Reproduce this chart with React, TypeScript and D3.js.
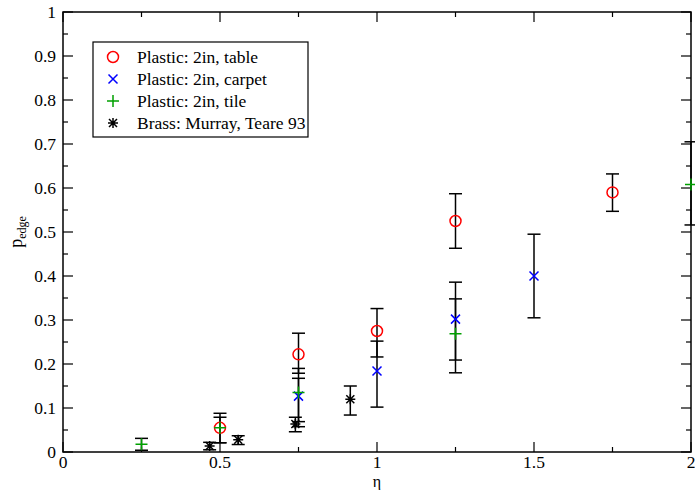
import { useEffect, useRef } from "react";
import * as d3 from "d3";

// Plastic: 2in, table (circles)
const tableX = [0.5, 0.75, 1, 1.25, 1.75];
const tableY = [0.055, 0.222, 0.275, 0.525, 0.59];
const tableLow = [0.021, 0.179, 0.216, 0.463, 0.547];
const tableHigh = [0.088, 0.27, 0.326, 0.587, 0.632];

// Plastic: 2in, carpet (x marks)
const carpetX = [0.75, 1, 1.25, 1.5];
const carpetY = [0.127, 0.184, 0.302, 0.4];
const carpetLow = [0.069, 0.102, 0.209, 0.305];
const carpetHigh = [0.19, 0.252, 0.386, 0.495];

// Plastic: 2in, tile (plus)
const tileX = [0.25, 0.5, 0.75, 1.25, 2];
const tileY = [0.0175, 0.055, 0.135, 0.269, 0.608];
const tileLow = [0.004, 0.021, 0.0575, 0.18, 0.516];
const tileHigh = [0.031, 0.079, 0.1675, 0.348, 0.705];

// Brass: Murray, Teare 93 (asterisk)
const brassX = [0.467, 0.558, 0.74, 0.915];
const brassY = [0.0136, 0.028, 0.0636, 0.12];
const brassLow = [0.005, 0.017, 0.046, 0.084];
const brassHigh = [0.022, 0.037, 0.079, 0.15];

const xTicks = [0, 0.5, 1, 1.5, 2];
const yTicks = [0, 0.1, 0.2, 0.3, 0.4, 0.5, 0.6, 0.7, 0.8, 0.9, 1];
const legendLabels = [
  "Plastic: 2in, table",
  "Plastic: 2in, carpet",
  "Plastic: 2in, tile",
  "Brass: Murray, Teare 93",
];

const W = 695;
const H = 490;
const FONT = "Liberation Serif, Times New Roman, Times, DejaVu Serif, serif";

export default function App() {
  const ref = useRef<SVGSVGElement>(null);

  useEffect(() => {
    const svg = d3.select(ref.current);
    svg.selectAll("*").remove();

    const left = 63, right = 691, top = 12, bottom = 452;
    const x = d3.scaleLinear().domain([0, 2]).range([left, right]);
    const y = d3.scaleLinear().domain([0, 1]).range([bottom, top]);

    const makeSet = (xs: number[], ys: number[], lo: number[], hi: number[]) =>
      xs.map((v, i) => ({ x: v, y: ys[i], lo: lo[i], hi: hi[i] }));

    const sets = [
      { kind: "circle", color: "#ff0000", data: makeSet(tableX, tableY, tableLow, tableHigh) },
      { kind: "cross", color: "#0000ff", data: makeSet(carpetX, carpetY, carpetLow, carpetHigh) },
      { kind: "plus", color: "#00a000", data: makeSet(tileX, tileY, tileLow, tileHigh) },
      { kind: "star", color: "#000000", data: makeSet(brassX, brassY, brassLow, brassHigh) },
    ];

    // ticks on all four sides, pointing inward
    const ticks = svg.append("g").attr("stroke", "#000").attr("stroke-width", 1.2);
    d3.range(0, 2.0001, 0.25).forEach((t) => {
      const major = Math.abs(t * 2 - Math.round(t * 2)) < 1e-6;
      const len = major ? 10 : 5;
      ticks.append("line").attr("x1", x(t)).attr("x2", x(t)).attr("y1", bottom).attr("y2", bottom - len);
      ticks.append("line").attr("x1", x(t)).attr("x2", x(t)).attr("y1", top).attr("y2", top + len);
    });
    d3.range(0, 1.0001, 0.05).forEach((t) => {
      const major = Math.abs(t * 10 - Math.round(t * 10)) < 1e-6;
      const len = major ? 10 : 5;
      ticks.append("line").attr("y1", y(t)).attr("y2", y(t)).attr("x1", left).attr("x2", left + len);
      ticks.append("line").attr("y1", y(t)).attr("y2", y(t)).attr("x1", right).attr("x2", right - len);
    });

    // frame
    svg.append("rect")
      .attr("x", left).attr("y", top)
      .attr("width", right - left).attr("height", bottom - top)
      .attr("fill", "none").attr("stroke", "#000").attr("stroke-width", 1.5);

    // tick labels
    svg.append("g").selectAll("text").data(xTicks).enter().append("text")
      .attr("x", (d) => x(d)).attr("y", 468)
      .attr("text-anchor", "middle")
      .style("font-family", FONT).style("font-size", "17.5px")
      .text((d) => d3.format("~g")(d));
    svg.append("g").selectAll("text").data(yTicks).enter().append("text")
      .attr("x", 56).attr("y", (d) => y(d) + 6)
      .attr("text-anchor", "end")
      .style("font-family", FONT).style("font-size", "17.5px")
      .text((d) => d3.format("~g")(d));

    // axis labels
    svg.append("text")
      .attr("x", x(1)).attr("y", 487)
      .attr("text-anchor", "middle")
      .style("font-family", FONT).style("font-size", "16px")
      .text("η");
    const yl = svg.append("text")
      .attr("transform", `translate(22, ${y(0.5)}) rotate(-90)`)
      .attr("text-anchor", "middle")
      .style("font-family", FONT).style("font-size", "18px");
    yl.append("tspan").text("p");
    yl.append("tspan").style("font-size", "12px").attr("dy", 4).text("edge");

    // markers
    const drawMarker = (g: any, kind: string, color: string, cx: number, cy: number) => {
      if (kind === "circle") {
        g.append("circle").attr("cx", cx).attr("cy", cy).attr("r", 5.5)
          .attr("fill", "none").attr("stroke", color).attr("stroke-width", 1.5);
      } else if (kind === "cross") {
        const s = 4.5;
        g.append("path").attr("d", `M${cx - s},${cy - s}L${cx + s},${cy + s}M${cx - s},${cy + s}L${cx + s},${cy - s}`)
          .attr("stroke", color).attr("stroke-width", 1.5);
      } else if (kind === "plus") {
        const s = 6;
        g.append("path").attr("d", `M${cx - s},${cy}L${cx + s},${cy}M${cx},${cy - s}L${cx},${cy + s}`)
          .attr("stroke", color).attr("stroke-width", 1.5);
      } else {
        const s = 5, d = 4;
        g.append("path")
          .attr("d", `M${cx - s},${cy}L${cx + s},${cy}M${cx},${cy - s}L${cx},${cy + s}M${cx - d},${cy - d}L${cx + d},${cy + d}M${cx - d},${cy + d}L${cx + d},${cy - d}`)
          .attr("stroke", color).attr("stroke-width", 1.5);
      }
    };

    // error bars first
    const bars = svg.append("g").attr("stroke", "#000").attr("stroke-width", 1.5);
    sets.forEach((s) => {
      s.data.forEach((d) => {
        const cx = x(d.x);
        bars.append("line").attr("x1", cx).attr("x2", cx).attr("y1", y(d.lo)).attr("y2", y(d.hi));
        [d.lo, d.hi].forEach((v) => {
          bars.append("line").attr("x1", cx - 6.5).attr("x2", cx + 6.5).attr("y1", y(v)).attr("y2", y(v));
        });
      });
    });

    const marks = svg.append("g");
    sets.forEach((s) => {
      s.data.forEach((d) => drawMarker(marks, s.kind, s.color, x(d.x), y(d.y)));
    });

    // legend
    const lg = svg.append("g");
    lg.append("rect")
      .attr("x", 93).attr("y", 42).attr("width", 215).attr("height", 95)
      .attr("fill", "#fff").attr("stroke", "#000").attr("stroke-width", 1.2);
    sets.forEach((s, i) => {
      const ry = 57 + i * 22;
      drawMarker(lg, s.kind, s.color, 113, ry);
      lg.append("text")
        .attr("x", 137).attr("y", ry + 6)
        .style("font-family", FONT).style("font-size", "17.5px")
        .text(legendLabels[i]);
    });
  }, []);

  return (
    <svg
      ref={ref}
      width={W}
      height={H}
      style={{ position: "absolute", left: 0, top: 0, background: "#fff" }}
    />
  );
}
